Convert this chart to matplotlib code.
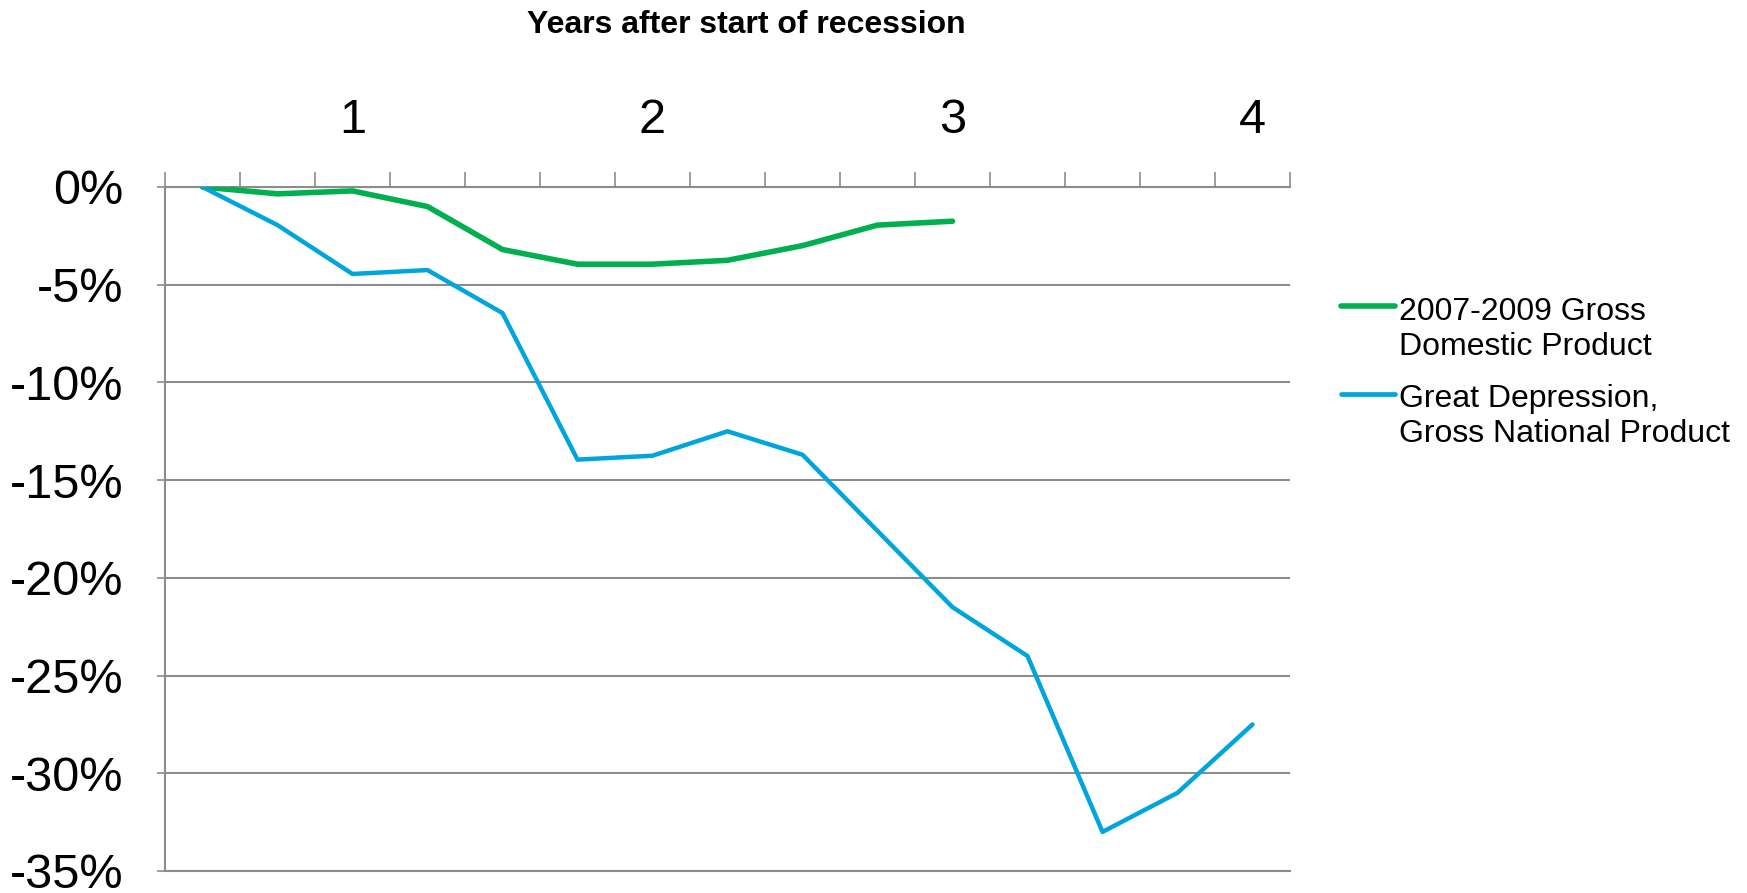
import matplotlib
matplotlib.use("Agg")
import matplotlib.pyplot as plt
from matplotlib.lines import Line2D
from matplotlib.ticker import FuncFormatter, MultipleLocator
import numpy as np

plt.rcParams['font.family'] = ['Liberation Sans', 'DejaVu Sans']

# ---- data ----
quarters = list(range(15))
quarter_labels = ["", "", "1", "", "", "", "2", "", "", "", "3", "", "", "", "4"]
gdp_2007_2009 = [0, -0.35, -0.2, -1.0, -3.2, -3.95, -3.95, -3.75, -3.0, -1.95, -1.75]
gnp_great_depression = [0, -1.95, -4.45, -4.25, -6.45, -13.95, -13.75, -12.5, -13.7,
                        -17.6, -21.5, -24.0, -33.0, -31.0, -27.5]
series_names = ["2007-2009 Gross\nDomestic Product", "Great Depression,\nGross National Product"]
title = "Years after start of recession"

green = "#00B050"
blue = "#00A5DB"
gray = "#8C8C8C"

W, H = 1747, 893
fig = plt.figure(figsize=(W / 100, H / 100), dpi=100)
left, right, top, bottom = 165, 1290, 187, 871
ax = fig.add_axes([left / W, 1 - bottom / H, (right - left) / W, (bottom - top) / H])

ax.plot(quarters[:len(gdp_2007_2009)], gdp_2007_2009, color=green, lw=4.0,
        solid_capstyle='round', solid_joinstyle='round', zorder=3)
ax.plot(quarters[:len(gnp_great_depression)], gnp_great_depression, color=blue, lw=3.2,
        solid_capstyle='round', solid_joinstyle='round', zorder=3)

ax.set_xlim(-0.5, 14.5)
ax.set_ylim(-35, 0)

# x axis on top
ax.xaxis.tick_top()
ax.set_xticks(quarters)
ax.set_xticklabels(quarter_labels)
ax.set_xticks(np.arange(-0.5, 15, 1), minor=True)
ax.tick_params(axis='x', which='major', length=0, pad=32, labelsize=35, top=True, bottom=False)
ax.tick_params(axis='x', which='minor', length=11, width=1.2, color=gray, top=True, bottom=False)

ax.yaxis.set_major_locator(MultipleLocator(5))
ax.yaxis.set_major_formatter(FuncFormatter(lambda v, p: f"{v:.0f}%"))
ax.tick_params(axis='y', which='major', length=6, width=1.2, color=gray, pad=24, labelsize=35)

ax.yaxis.grid(True, color=gray, lw=1.5)
ax.set_axisbelow(True)
for s in ['top', 'left', 'bottom']:
    ax.spines[s].set_color(gray)
    ax.spines[s].set_linewidth(1.5)
ax.spines['right'].set_visible(False)

fig.text(746 / W, 1 - 25 / H, title, fontsize=23, fontweight='bold', ha='center', va='center')

# legend drawn manually
for name, col, lw, hy, ty in [(series_names[0], green, 4.0, 306, 315),
                              (series_names[1], blue, 3.4, 394, 402)]:
    fig.add_artist(Line2D([1341 / W, 1395 / W], [1 - hy / H, 1 - hy / H], color=col, lw=lw,
                          solid_capstyle='round', transform=fig.transFigure))
    fig.text(1399 / W, 1 - (ty - 18) / H, name, fontsize=23, ha='left', va='top', linespacing=1.22)

fig.savefig("out.png", dpi=100)
